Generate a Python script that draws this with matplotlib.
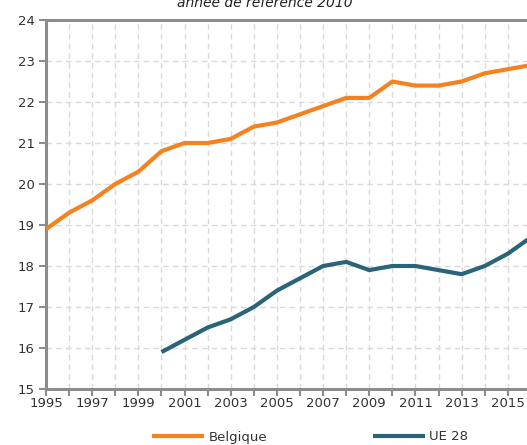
import matplotlib
matplotlib.use("Agg")
import matplotlib.pyplot as plt

years_be = list(range(1995, 2017))
belgique = [18.9, 19.3, 19.6, 20.0, 20.3, 20.8, 21.0, 21.0, 21.1, 21.4, 21.5,
            21.7, 21.9, 22.1, 22.1, 22.5, 22.4, 22.4, 22.5, 22.7, 22.8, 22.9]
years_ue = list(range(2000, 2017))
ue28 = [15.9, 16.2, 16.5, 16.7, 17.0, 17.4, 17.7, 18.0, 18.1, 17.9, 18.0,
        18.0, 17.9, 17.8, 18.0, 18.3, 18.7]
title = "année de référence 2010"

W, H = 527, 445
fig = plt.figure(figsize=(W/100, H/100), dpi=100)
ax = fig.add_axes([46/W, 1-389/H, 508/W, 369/H])
ax.set_xlim(1995, 2017)
ax.set_ylim(15, 24)

orange = "#F5821F"
teal = "#2A6478"
grey = "#8C8C8C"

ax.plot(years_be, belgique, color=orange, lw=3.0, solid_capstyle="butt", label="Belgique", zorder=3)
ax.plot(years_ue, ue28, color=teal, lw=3.0, solid_capstyle="butt", label="UE 28", zorder=3)

ax.set_xticks(range(1995, 2017))
ax.set_xticklabels([str(y) if (y - 1995) % 2 == 0 else "" for y in range(1995, 2017)])
ax.set_yticks(range(15, 25))
ax.grid(True, color="#D9D9D9", ls=(0, (4, 3)), lw=1)
ax.set_axisbelow(True)
ax.spines["right"].set_visible(False)
for s in ["left", "bottom", "top"]:
    ax.spines[s].set_color(grey)
    ax.spines[s].set_linewidth(2.2)
ax.tick_params(axis="both", colors=grey, length=5, width=1.5, labelsize=9.5,
               labelcolor="#333333")
ax.tick_params(axis="x", pad=1)
ax.tick_params(axis="y", pad=3)

fig.text(265/W, 1-3/H, title, ha="center", va="center", fontsize=10,
         style="italic", color="#222222")

leg = fig.legend(loc="center", bbox_to_anchor=(310/W, 1-437/H), ncol=2,
                 frameon=False, fontsize=9.5, handlelength=4.0, columnspacing=8,
                 handletextpad=0.3)
for t in leg.get_texts():
    t.set_color("#333333")

fig.savefig("out.png", dpi=100)
